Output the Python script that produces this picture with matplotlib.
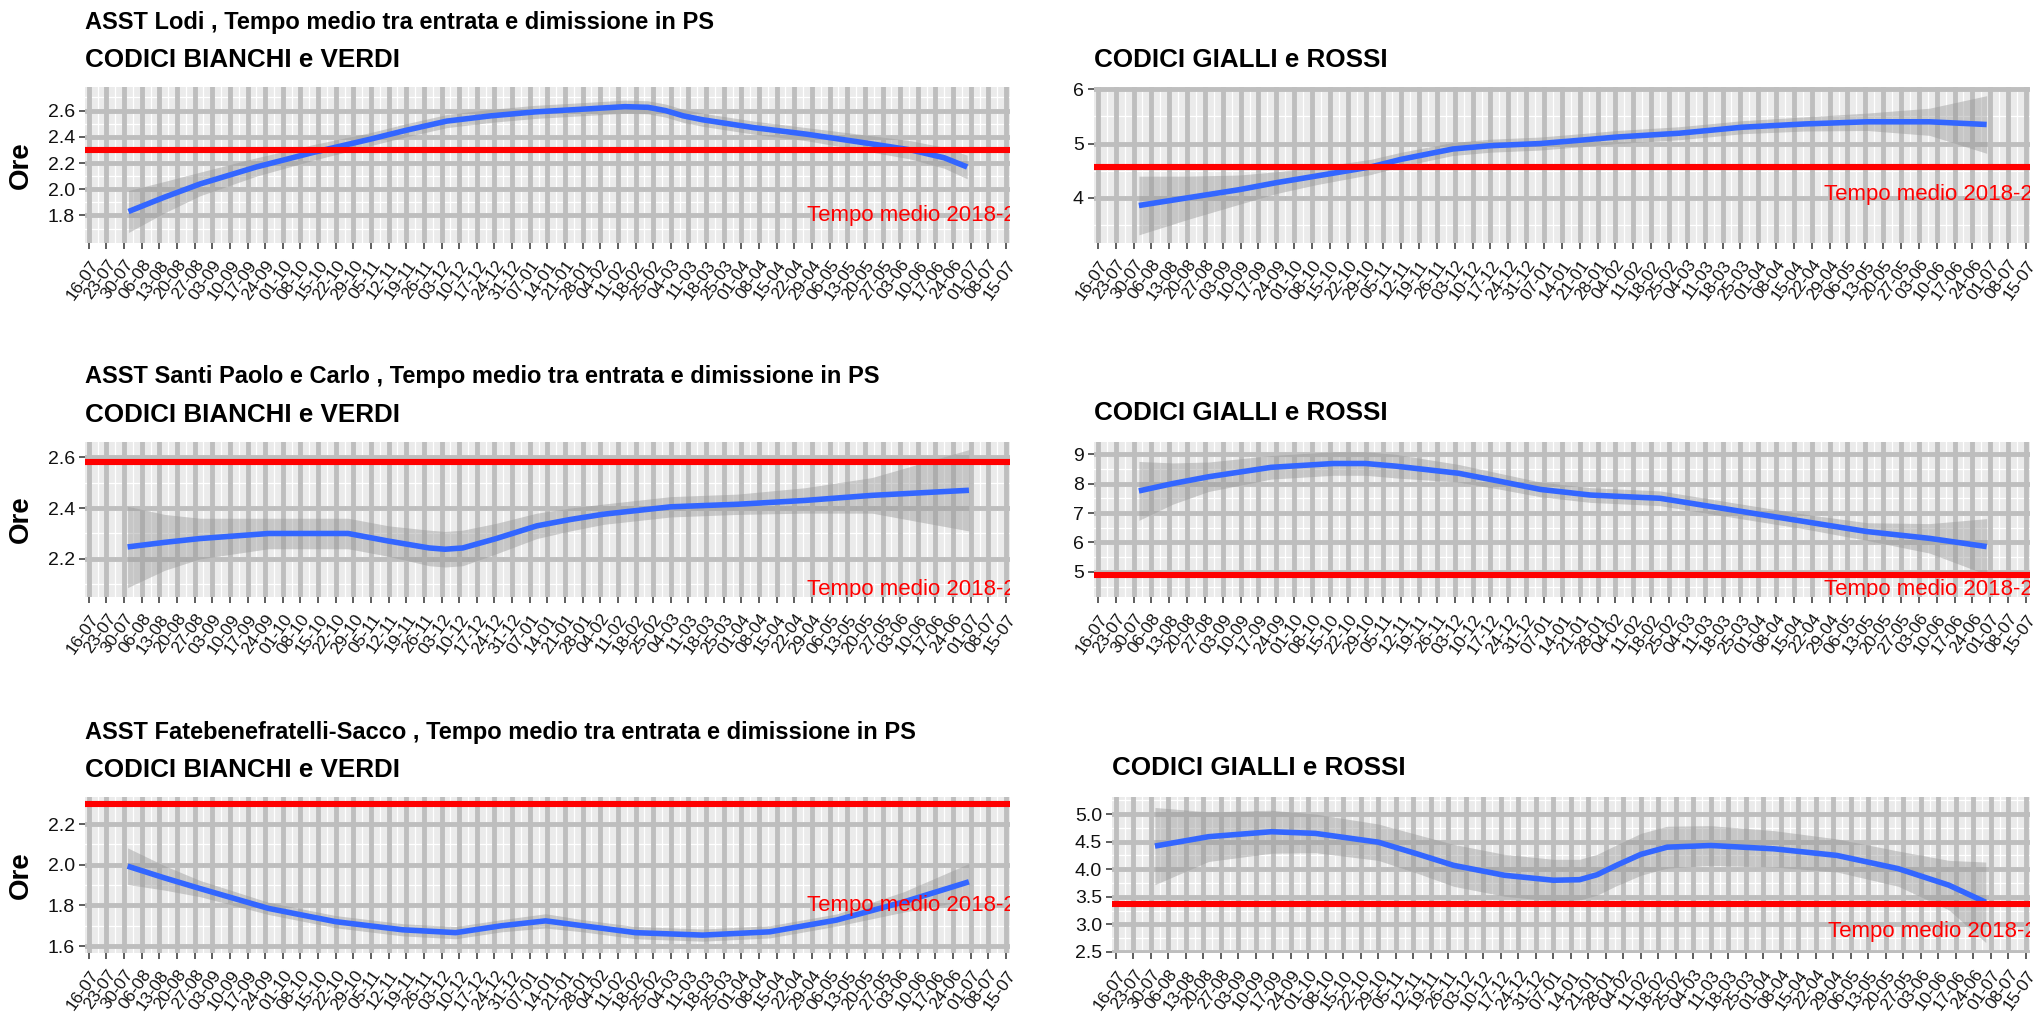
import numpy as np
import matplotlib
matplotlib.use("Agg")
import matplotlib.pyplot as plt
from datetime import datetime, timedelta

plt.rcParams['font.family'] = ['Liberation Sans', 'DejaVu Sans']

# ================= dati =================
# settimane dal 16-07-2018 (0 = 16-07), valore medio (ore) e semi-ampiezza banda
lodi_bv_w = [2.25, 4.3, 6.3, 9.5, 12.7, 15.9, 18.0, 20.3, 22.8, 25.3, 27.9, 30.4, 31.7, 32.7, 33.7, 34.8, 37.7, 40.7, 43.7, 46.6, 48.5, 49.8]
lodi_bv_v = [1.83, 1.94, 2.04, 2.17, 2.28, 2.38, 2.45, 2.52, 2.56, 2.59, 2.61, 2.63, 2.625, 2.60, 2.56, 2.53, 2.47, 2.42, 2.36, 2.30, 2.24, 2.17]
lodi_bv_se = [0.16, 0.12, 0.09, 0.07, 0.06, 0.05, 0.05, 0.05, 0.05, 0.05, 0.05, 0.05, 0.05, 0.05, 0.05, 0.05, 0.05, 0.05, 0.06, 0.07, 0.08, 0.09]

lodi_gr_w = [2.3, 5.0, 7.9, 10.0, 12.2, 15.3, 17.0, 19.9, 22.0, 24.8, 27.0, 29.1, 32.6, 36.1, 39.6, 43.1, 46.6, 49.8]
lodi_gr_v = [3.86, 4.00, 4.15, 4.28, 4.40, 4.57, 4.71, 4.90, 4.96, 5.00, 5.06, 5.12, 5.19, 5.30, 5.36, 5.40, 5.40, 5.35]
lodi_gr_se = [0.54, 0.40, 0.27, 0.20, 0.16, 0.14, 0.13, 0.12, 0.12, 0.12, 0.12, 0.12, 0.12, 0.12, 0.13, 0.16, 0.25, 0.53]

spc_bv_w = [2.2, 4.3, 6.3, 10.2, 14.7, 17.0, 19.3, 20.2, 21.2, 23.1, 25.4, 27.3, 29.2, 33.0, 36.8, 40.6, 44.4, 49.9]
spc_bv_v = [2.247, 2.265, 2.28, 2.30, 2.30, 2.27, 2.243, 2.238, 2.243, 2.28, 2.33, 2.355, 2.376, 2.405, 2.415, 2.43, 2.45, 2.47]
spc_bv_se = [0.16, 0.11, 0.08, 0.06, 0.06, 0.06, 0.07, 0.07, 0.07, 0.06, 0.05, 0.045, 0.04, 0.04, 0.04, 0.05, 0.07, 0.16]

spc_gr_w = [2.3, 4.2, 6.2, 9.7, 13.2, 15.0, 16.7, 20.2, 22.5, 24.8, 27.6, 31.5, 36.1, 39.6, 43.1, 46.6, 49.8]
spc_gr_v = [7.75, 8.0, 8.23, 8.55, 8.68, 8.68, 8.59, 8.35, 8.08, 7.80, 7.61, 7.50, 7.05, 6.71, 6.37, 6.14, 5.86]
spc_gr_se = [1.0, 0.7, 0.5, 0.4, 0.4, 0.4, 0.4, 0.3, 0.27, 0.25, 0.25, 0.25, 0.25, 0.25, 0.3, 0.5, 0.95]

fbf_bv_w = [2.2, 4.3, 6.3, 10.2, 14.0, 17.8, 20.8, 23.4, 25.9, 28.0, 31.0, 34.8, 38.6, 42.4, 46.2, 49.9]
fbf_bv_v = [1.993, 1.935, 1.883, 1.785, 1.72, 1.68, 1.666, 1.70, 1.724, 1.70, 1.666, 1.654, 1.67, 1.728, 1.817, 1.916]
fbf_bv_se = [0.09, 0.06, 0.04, 0.03, 0.03, 0.03, 0.03, 0.03, 0.035, 0.03, 0.03, 0.03, 0.03, 0.03, 0.05, 0.09]

fbf_gr_w = [2.24, 5.3, 8.9, 11.4, 15.0, 17.2, 19.3, 22.2, 25.0, 26.5, 27.5, 28.6, 30.0, 31.5, 34.0, 37.6, 41.2, 44.7, 47.6, 49.7]
fbf_gr_v = [4.42, 4.59, 4.68, 4.65, 4.49, 4.28, 4.07, 3.89, 3.80, 3.81, 3.90, 4.07, 4.27, 4.40, 4.43, 4.37, 4.25, 4.01, 3.71, 3.40]
fbf_gr_se = [0.7, 0.45, 0.39, 0.35, 0.33, 0.35, 0.38, 0.38, 0.38, 0.37, 0.37, 0.37, 0.38, 0.38, 0.36, 0.33, 0.3, 0.32, 0.45, 0.73]

# tempo medio 2018-2019 (linea rossa)
media_lodi_bv = 2.30
media_lodi_gr = 4.56
media_spc_bv = 2.58
media_spc_gr = 4.90
media_fbf_bv = 2.30
media_fbf_gr = 3.37

ospedali = ["ASST Lodi", "ASST Santi Paolo e Carlo", "ASST Fatebenefratelli-Sacco"]
y_ticks = [
    ([1.8, 2.0, 2.2, 2.4, 2.6], "{:.1f}"), ([4, 5, 6], "{:.0f}"),
    ([2.2, 2.4, 2.6], "{:.1f}"), ([5, 6, 7, 8, 9], "{:.0f}"),
    ([1.6, 1.8, 2.0, 2.2], "{:.1f}"), ([2.5, 3.0, 3.5, 4.0, 4.5, 5.0], "{:.1f}"),
]
y_lims = [(1.59, 2.78), (3.17, 6.04), (2.05, 2.66), (4.15, 9.41), (1.566, 2.333), (2.48, 5.31)]

# ================= impostazioni grafiche =================
W, H = 2042, 1013
BASE = datetime(2018, 7, 16)
week_ticks = [BASE + timedelta(days=7 * i) for i in range(53)]
BG = '#EBEBEB'
GRID = '#BEBEBE'


def to_dates(weeks):
    return [BASE + timedelta(days=7 * w) for w in weeks]


def px_rect(x0, y0, x1, y1):
    return [x0 / W, 1 - y1 / H, (x1 - x0) / W, (y1 - y0) / H]


def draw_panel(ax, weeks, vals, se, media, lim, ticks):
    ax.set_facecolor(BG)
    ax.set_xlim(BASE - timedelta(days=1.5), BASE + timedelta(days=365.6))
    ax.set_ylim(*lim)
    yt, fmt = ticks
    # griglia minore (bianca) e maggiore (grigia)
    step = yt[1] - yt[0]
    y_minor = [yt[0] - step / 2] + [t + step / 2 for t in yt]
    for y in y_minor:
        if lim[0] < y < lim[1]:
            ax.axhline(y, color='white', lw=0.9, zorder=0.5)
    for i in range(52):
        ax.axvline(week_ticks[i] + timedelta(days=3.5), color='white', lw=0.9, zorder=0.5)
    for y in yt:
        ax.axhline(y, color=GRID, lw=3.5, zorder=0.6)
    for d in week_ticks:
        ax.axvline(d, color=GRID, lw=3.5, zorder=0.6)

    x = to_dates(weeks)
    v = np.array(vals)
    s = np.array(se)
    ax.fill_between(x, v - s, v + s, color='#999999', alpha=0.45, lw=0, zorder=1)
    ax.plot(x, v, color='#3366FF', lw=4.0, zorder=2, solid_capstyle='butt',
            solid_joinstyle='round')
    ax.axhline(media, color='red', lw=4.4, zorder=3)
    ax.text(BASE + timedelta(weeks=40.7), media - 0.5, "Tempo medio 2018-2019",
            color='red', fontsize=16, ha='left', va='center', clip_on=True, zorder=4)

    ax.set_yticks(yt)
    ax.set_yticklabels([fmt.format(t) for t in yt])
    ax.set_xticks(week_ticks)
    ax.set_xticklabels([d.strftime('%d-%m') for d in week_ticks], rotation=55,
                       ha='right', va='top', rotation_mode='anchor')
    ax.tick_params(axis='both', length=4.3, width=1.1, color='#333333',
                   labelcolor='#111111')
    ax.tick_params(axis='x', labelsize=12.5, pad=6)
    ax.tick_params(axis='y', labelsize=14, pad=3)
    for sp in ax.spines.values():
        sp.set_visible(False)


fig = plt.figure(figsize=(W / 100, H / 100), dpi=100)

rows_y = [(87, 243), (442, 597), (797, 953)]
left_x = (85, 1010)
right_x = [(1094, 2030), (1094, 2030), (1112, 2030)]
title_y = [22, 377, 732]
sub_y = [60, 415, 770]
right_sub_y = [60, 413, 768]

dati = [
    (lodi_bv_w, lodi_bv_v, lodi_bv_se, media_lodi_bv), (lodi_gr_w, lodi_gr_v, lodi_gr_se, media_lodi_gr),
    (spc_bv_w, spc_bv_v, spc_bv_se, media_spc_bv), (spc_gr_w, spc_gr_v, spc_gr_se, media_spc_gr),
    (fbf_bv_w, fbf_bv_v, fbf_bv_se, media_fbf_bv), (fbf_gr_w, fbf_gr_v, fbf_gr_se, media_fbf_gr),
]

for r in range(3):
    y0, y1 = rows_y[r]
    # pannello sinistro: codici bianchi e verdi
    ax = fig.add_axes(px_rect(left_x[0], y0, left_x[1], y1))
    w, v, s, m = dati[2 * r]
    draw_panel(ax, w, v, s, m, y_lims[2 * r], y_ticks[2 * r])
    fig.text(left_x[0] / W, 1 - title_y[r] / H,
             f"{ospedali[r]} , Tempo medio tra entrata e dimissione in PS",
             fontsize=17, fontweight='bold', ha='left', va='center')
    fig.text(left_x[0] / W, 1 - sub_y[r] / H, "CODICI BIANCHI e VERDI",
             fontsize=18.7, fontweight='bold', ha='left', va='center')
    fig.text(21 / W, 1 - (y0 + y1) / 2 / H, "Ore", fontsize=20, fontweight='bold',
             rotation=90, ha='center', va='center')

    # pannello destro: codici gialli e rossi
    rx0, rx1 = right_x[r]
    ax = fig.add_axes(px_rect(rx0, y0, rx1, y1))
    w, v, s, m = dati[2 * r + 1]
    draw_panel(ax, w, v, s, m, y_lims[2 * r + 1], y_ticks[2 * r + 1])
    fig.text(rx0 / W, 1 - right_sub_y[r] / H, "CODICI GIALLI e ROSSI",
             fontsize=18.7, fontweight='bold', ha='left', va='center')

fig.savefig("out.png", dpi=100)
